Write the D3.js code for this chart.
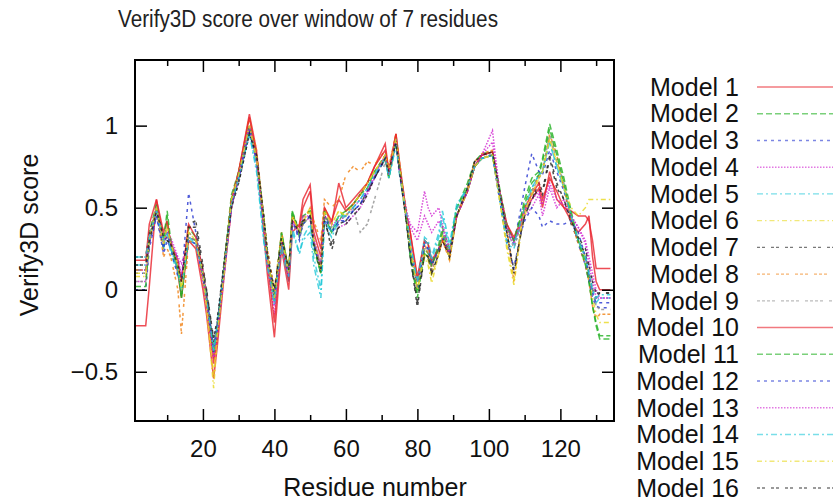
<!DOCTYPE html>
<html>
<head>
<meta charset="utf-8">
<script src="https://cdn.jsdelivr.net/npm/d3@7"></script>
<style>
  body { margin: 0; background: #fff; }
  svg { display: block; font-family: "Liberation Sans", Arial, sans-serif; }
</style>
</head>
<body>
<div id="chart"></div>
<script>
var residues = [1,4,5,7,9,10,11,13,14,16, 18,20,21,23,24,26,28,30,33,35, 37,38,40,42,44,45,47,48,50,51,
  53,54,56,58,60,62,64,66,68,71, 72,74,75,77,78,80,82,83,84,86, 87,89,91,94,96,98,101,103,105,107,
  109,110,112,114,115,117,119,121,123,125, 127,128,129,130,131,134];

var model1 = [-0.22,-0.22,0.02,0.55,0.30,0.32,0.30,0.10,-0.05,0.30, 0.25,0.00,-0.15,-0.54,-0.35,0.10,0.50,0.72,1.07,0.85,
  0.35,0.10,-0.29,0.25,0.00,0.35,0.40,0.55,0.64,0.40, 0.25,0.50,0.40,0.65,0.50,0.55,0.60,0.65,0.75,0.89,
  0.72,0.95,0.78,0.45,0.35,0.05,0.30,0.28,0.15,0.25, 0.30,0.22,0.45,0.60,0.75,0.82,0.84,0.58,0.40,0.30,
  0.40,0.48,0.55,0.62,0.50,0.72,0.55,0.50,0.48,0.45, 0.45,0.42,0.30,0.13,0.13,0.13];
var model2 = [0.12,0.12,0.35,0.52,0.25,0.45,0.25,0.12,-0.05,0.38, 0.32,0.08,-0.08,-0.40,-0.28,0.18,0.58,0.72,1.00,0.82,
  0.45,0.22,-0.08,0.35,0.12,0.48,0.32,0.40,0.45,0.25, 0.10,0.45,0.35,0.42,0.48,0.52,0.58,0.65,0.72,0.80,
  0.68,0.90,0.72,0.40,0.20,-0.05,0.25,0.22,0.15,0.28, 0.38,0.25,0.50,0.65,0.78,0.83,0.84,0.62,0.40,0.30,
  0.45,0.55,0.68,0.72,0.80,1.01,0.85,0.68,0.48,0.30, 0.18,0.05,-0.10,-0.22,-0.30,-0.30];
var model3 = [0.00,0.00,0.25,0.45,0.22,0.30,0.25,0.20,0.05,0.59, 0.35,0.10,-0.02,-0.35,-0.20,0.12,0.52,0.68,0.98,0.78,
  0.38,0.18,-0.02,0.30,0.08,0.42,0.30,0.42,0.45,0.28, 0.15,0.42,0.35,0.40,0.42,0.48,0.52,0.60,0.68,0.80,
  0.72,0.90,0.72,0.42,0.22,0.02,0.30,0.25,0.18,0.25, 0.32,0.20,0.45,0.60,0.75,0.80,0.82,0.58,0.35,0.28,
  0.50,0.62,0.83,0.72,0.70,0.85,0.72,0.60,0.45,0.28, 0.15,0.05,-0.05,-0.10,-0.11,-0.11];
var model4 = [0.05,0.05,0.28,0.48,0.30,0.35,0.32,0.20,0.16,0.30, 0.28,0.05,-0.10,-0.42,-0.30,0.10,0.50,0.68,0.98,0.78,
  0.38,0.15,-0.15,0.28,0.05,0.40,0.35,0.45,0.42,0.32, 0.15,0.45,0.40,0.38,0.40,0.45,0.50,0.58,0.68,0.82,
  0.70,0.90,0.72,0.48,0.40,0.35,0.60,0.50,0.45,0.50, 0.40,0.25,0.45,0.60,0.75,0.82,0.97,0.60,0.38,0.30,
  0.40,0.45,0.50,0.58,0.45,0.62,0.50,0.55,0.45,0.38, 0.30,0.20,0.10,0.00,-0.05,-0.05];
var model5 = [0.15,0.15,0.30,0.50,0.25,0.35,0.22,0.10,0.00,0.30, 0.28,0.10,-0.05,-0.35,-0.22,0.15,0.52,0.68,0.95,0.75,
  0.30,0.15,-0.10,0.25,0.05,0.35,0.22,0.30,0.35,0.15, -0.05,0.40,0.32,0.42,0.45,0.50,0.55,0.62,0.70,0.80,
  0.68,0.88,0.70,0.45,0.30,0.05,0.32,0.30,0.20,0.35, 0.48,0.28,0.52,0.62,0.75,0.80,0.82,0.55,0.28,0.25,
  0.40,0.48,0.62,0.70,0.72,0.90,0.75,0.62,0.45,0.30, 0.20,0.10,0.00,-0.08,-0.05,-0.05];
var model6 = [0.08,0.08,0.32,0.50,0.28,0.40,0.30,0.15,0.02,0.35, 0.30,0.10,-0.10,-0.60,-0.30,0.12,0.55,0.70,1.00,0.80,
  0.42,0.20,-0.05,0.32,0.10,0.45,0.35,0.42,0.50,0.30, 0.15,0.50,0.40,0.48,0.45,0.52,0.58,0.65,0.72,0.82,
  0.70,0.92,0.75,0.42,0.25,0.00,0.20,0.15,0.04,0.22, 0.32,0.18,0.45,0.60,0.75,0.80,0.82,0.55,0.25,0.03,
  0.35,0.45,0.58,0.68,0.72,0.92,0.78,0.62,0.45,0.30, 0.20,0.08,-0.05,-0.15,-0.20,-0.20];
var model7 = [0.20,0.20,0.35,0.48,0.35,0.30,0.28,0.15,0.05,0.40, 0.42,0.15,0.00,-0.32,-0.20,0.18,0.52,0.65,0.95,0.82,
  0.45,0.25,-0.02,0.32,0.12,0.45,0.38,0.42,0.45,0.28, 0.10,0.45,0.24,0.40,0.42,0.48,0.52,0.60,0.68,0.80,
  0.72,0.90,0.75,0.40,0.20,-0.11,0.22,0.20,0.10,0.22, 0.32,0.20,0.45,0.62,0.78,0.82,0.84,0.60,0.35,0.12,
  0.35,0.45,0.55,0.65,0.60,0.82,0.65,0.55,0.40,0.30, 0.22,0.10,0.00,-0.05,-0.02,-0.02];
var model8 = [0.12,0.12,0.30,0.50,0.20,0.25,0.20,0.00,-0.27,0.30, 0.28,0.05,-0.08,-0.42,-0.28,0.15,0.55,0.72,1.05,0.85,
  0.45,0.25,0.00,0.35,0.12,0.45,0.35,0.40,0.50,0.42, 0.30,0.55,0.50,0.55,0.70,0.75,0.72,0.78,0.76,0.85,
  0.75,0.95,0.78,0.45,0.28,0.02,0.28,0.22,0.12,0.22, 0.30,0.18,0.45,0.62,0.78,0.83,0.85,0.60,0.38,0.05,
  0.38,0.50,0.60,0.70,0.72,0.95,0.82,0.62,0.42,0.28, 0.15,0.05,-0.10,-0.18,-0.15,-0.15];
var model9 = [0.05,0.05,0.28,0.48,0.30,0.38,0.28,0.12,-0.02,0.35, 0.30,0.12,-0.02,-0.35,-0.22,0.15,0.52,0.70,1.00,0.80,
  0.40,0.20,-0.05,0.30,0.10,0.42,0.32,0.40,0.45,0.30, 0.15,0.45,0.38,0.45,0.45,0.50,0.35,0.40,0.55,0.78,
  0.70,0.92,0.72,0.42,0.25,0.00,0.25,0.25,0.12,0.25, 0.35,0.22,0.48,0.60,0.75,0.80,0.83,0.60,0.38,0.25,
  0.40,0.50,0.60,0.68,0.72,0.95,0.78,0.65,0.45,0.30, 0.20,0.10,0.00,-0.10,-0.12,-0.12];
var model10 = [0.18,0.18,0.40,0.55,0.35,0.42,0.28,0.18,0.05,0.40, 0.32,0.12,-0.05,-0.45,-0.30,0.15,0.55,0.72,1.05,0.82,
  0.40,0.18,-0.20,0.30,0.05,0.42,0.38,0.50,0.60,0.35, 0.20,0.50,0.42,0.55,0.48,0.52,0.58,0.65,0.75,0.85,
  0.72,0.95,0.75,0.45,0.35,0.08,0.30,0.28,0.18,0.25, 0.30,0.22,0.45,0.60,0.75,0.82,0.84,0.60,0.40,0.32,
  0.42,0.50,0.58,0.65,0.55,0.68,0.60,0.50,0.42,0.35, 0.40,0.45,0.20,0.05,0.00,0.00];
var model11 = [0.02,0.02,0.30,0.50,0.30,0.48,0.30,0.12,-0.05,0.32, 0.30,0.08,-0.05,-0.38,-0.25,0.15,0.55,0.70,1.00,0.80,
  0.42,0.20,-0.05,0.35,0.10,0.48,0.35,0.45,0.48,0.28, 0.10,0.48,0.35,0.45,0.48,0.52,0.58,0.62,0.72,0.82,
  0.68,0.92,0.75,0.42,0.22,-0.02,0.22,0.20,0.15,0.25, 0.35,0.22,0.50,0.62,0.75,0.80,0.82,0.60,0.38,0.30,
  0.45,0.52,0.65,0.70,0.78,0.98,0.82,0.65,0.45,0.30, 0.15,0.05,-0.10,-0.20,-0.28,-0.28];
var model12 = [0.10,0.10,0.28,0.45,0.25,0.35,0.25,0.08,0.08,0.30, 0.28,0.08,-0.05,-0.38,-0.25,0.12,0.52,0.68,0.98,0.78,
  0.40,0.20,-0.05,0.30,0.08,0.42,0.32,0.40,0.45,0.28, 0.12,0.45,0.35,0.42,0.42,0.48,0.52,0.60,0.68,0.80,
  0.70,0.90,0.72,0.42,0.25,0.00,0.28,0.25,0.15,0.25, 0.32,0.22,0.45,0.60,0.75,0.80,0.82,0.55,0.30,0.13,
  0.35,0.42,0.50,0.45,0.38,0.42,0.40,0.40,0.42,0.35, 0.20,0.08,-0.02,-0.08,-0.08,-0.08];
var model13 = [0.12,0.12,0.32,0.50,0.28,0.35,0.30,0.18,0.10,0.32, 0.30,0.08,-0.08,-0.42,-0.28,0.12,0.52,0.70,1.00,0.80,
  0.40,0.18,-0.10,0.30,0.08,0.42,0.35,0.45,0.45,0.30, 0.15,0.45,0.40,0.42,0.45,0.50,0.55,0.60,0.70,0.82,
  0.70,0.92,0.72,0.45,0.38,0.30,0.45,0.40,0.35,0.42, 0.38,0.22,0.45,0.60,0.75,0.82,0.90,0.60,0.38,0.28,
  0.40,0.48,0.55,0.60,0.52,0.65,0.55,0.52,0.45,0.38, 0.28,0.15,0.05,-0.05,-0.05,-0.05];
var model14 = [0.20,0.20,0.32,0.48,0.30,0.35,0.25,0.12,0.00,0.32, 0.28,0.10,-0.05,-0.38,-0.22,0.15,0.52,0.68,0.95,0.72,
  0.30,0.15,-0.08,0.28,0.08,0.38,0.22,0.32,0.40,0.20, 0.00,0.42,0.35,0.45,0.45,0.50,0.55,0.62,0.70,0.80,
  0.68,0.88,0.72,0.45,0.28,0.05,0.30,0.28,0.18,0.32, 0.45,0.25,0.50,0.62,0.75,0.80,0.82,0.58,0.30,0.28,
  0.42,0.50,0.62,0.70,0.72,0.90,0.75,0.62,0.45,0.30, 0.20,0.10,0.00,-0.05,-0.03,-0.03];
var model15 = [0.10,0.10,0.30,0.50,0.28,0.38,0.28,0.15,0.00,0.35, 0.30,0.10,-0.10,-0.52,-0.28,0.12,0.55,0.70,1.00,0.80,
  0.42,0.20,-0.05,0.32,0.10,0.45,0.35,0.42,0.48,0.30, 0.12,0.48,0.40,0.48,0.45,0.52,0.58,0.65,0.72,0.82,
  0.72,0.92,0.75,0.42,0.25,0.00,0.22,0.18,0.08,0.22, 0.32,0.20,0.45,0.60,0.75,0.80,0.82,0.55,0.28,0.05,
  0.38,0.48,0.58,0.68,0.72,0.92,0.78,0.62,0.50,0.45, 0.50,0.55,0.55,0.55,0.55,0.55];
var model16 = [0.15,0.15,0.30,0.48,0.32,0.30,0.28,0.15,0.05,0.38, 0.38,0.12,0.00,-0.30,-0.18,0.18,0.50,0.65,0.95,0.82,
  0.45,0.22,0.00,0.32,0.12,0.42,0.35,0.42,0.45,0.28, 0.12,0.42,0.28,0.38,0.40,0.45,0.50,0.58,0.68,0.80,
  0.72,0.90,0.72,0.40,0.20,-0.08,0.22,0.20,0.10,0.22, 0.30,0.20,0.45,0.62,0.78,0.82,0.84,0.60,0.35,0.10,
  0.35,0.45,0.55,0.62,0.58,0.80,0.62,0.55,0.42,0.32, 0.25,0.15,0.05,-0.02,-0.02,-0.02];

var modelNames = ["Model 1","Model 2","Model 3","Model 4","Model 5","Model 6","Model 7","Model 8",
  "Model 9","Model 10","Model 11","Model 12","Model 13","Model 14","Model 15","Model 16"];
var modelValues = [model1,model2,model3,model4,model5,model6,model7,model8,
  model9,model10,model11,model12,model13,model14,model15,model16];

var xMajorTicks = [20,40,60,80,100,120];
var xMinorTicks = [10,30,50,70,90,110,130];
var yTicks = [-0.5,0,0.5,1];

// gnuplot-like line types, repeating after 9
var colors = ["#e8202a","#22b022","#2535d0","#d020d0","#20c8d8","#e8d820","#202020","#f08010","#909090"];
var dashes = [null,"6,3","3,4","1.5,1.5","6,3,2,3","5,3,1.5,3","3,2,3,6","3,2,3,2,3,6","3,2,3,2,3,2,3,6"];

var width = 837, height = 503;
var margin = {top: 60, right: 223, bottom: 82, left: 135};
var plotW = width - margin.left - margin.right;
var plotH = height - margin.top - margin.bottom;

var svg = d3.select("#chart").append("svg")
  .attr("width", width)
  .attr("height", height);

var g = svg.append("g")
  .attr("transform", `translate(${margin.left},${margin.top})`);

var xScale = d3.scaleLinear().domain([1, 135]).range([0, plotW]);
var yScale = d3.scaleLinear().domain([-0.8, 1.4]).range([plotH, 0]);

var line = d3.line()
  .x(function(d) { return xScale(d[0]); })
  .y(function(d) { return yScale(d[1]); });

var series = modelValues.map(function(vals, i) {
  return { name: modelNames[i], idx: i, points: residues.map(function(r, j) { return [r, vals[j]]; }) };
});

g.append("g").selectAll("path")
  .data(series)
  .enter()
  .append("path")
  .attr("d", function(d) { return line(d.points); })
  .attr("fill", "none")
  .attr("stroke", function(d) { return colors[d.idx % 9]; })
  .attr("stroke-width", 1.5)
  .attr("stroke-opacity", 0.8)
  .attr("stroke-dasharray", function(d) { return dashes[d.idx % 9]; });

// axes with inward ticks, mirrored on top/right
function styleAxis(sel) {
  sel.select(".domain").remove();
  sel.selectAll("line").attr("stroke", "#000").attr("stroke-width", 1.5);
  sel.selectAll("text").attr("font-size", 24).attr("fill", "#111");
}

g.append("g")
  .attr("transform", `translate(0,${plotH})`)
  .call(d3.axisBottom(xScale).tickValues(xMajorTicks).tickSize(-12).tickPadding(19))
  .call(styleAxis);
g.append("g")
  .attr("transform", `translate(0,${plotH})`)
  .call(d3.axisBottom(xScale).tickValues(xMinorTicks).tickSize(-6).tickFormat(""))
  .call(styleAxis);
g.append("g")
  .call(d3.axisTop(xScale).tickValues(xMajorTicks).tickSize(-12).tickFormat(""))
  .call(styleAxis);
g.append("g")
  .call(d3.axisTop(xScale).tickValues(xMinorTicks).tickSize(-6).tickFormat(""))
  .call(styleAxis);
g.append("g")
  .call(d3.axisLeft(yScale).tickValues(yTicks).tickSize(-12).tickPadding(17).tickFormat(d3.format("")))
  .call(styleAxis);
g.append("g")
  .attr("transform", `translate(${plotW},0)`)
  .call(d3.axisRight(yScale).tickValues(yTicks).tickSize(-12).tickFormat(""))
  .call(styleAxis);

g.append("rect")
  .attr("width", plotW)
  .attr("height", plotH)
  .attr("fill", "none")
  .attr("stroke", "#000")
  .attr("stroke-width", 2);

svg.append("text")
  .attr("x", 308).attr("y", 27)
  .attr("text-anchor", "middle")
  .attr("font-size", 23)
  .attr("textLength", 380)
  .attr("lengthAdjust", "spacingAndGlyphs")
  .attr("fill", "#222")
  .text("Verify3D score over window of 7 residues");

svg.append("text")
  .attr("x", 375).attr("y", 496)
  .attr("text-anchor", "middle")
  .attr("font-size", 25)
  .attr("fill", "#111")
  .text("Residue number");

svg.append("text")
  .attr("transform", "translate(38,235) rotate(-90)")
  .attr("text-anchor", "middle")
  .attr("font-size", 25)
  .attr("fill", "#111")
  .text("Verify3D score");

// legend
var legend = svg.append("g").selectAll("g")
  .data(series)
  .enter()
  .append("g")
  .attr("transform", function(d) { return `translate(0,${87 + d.idx * 26.73})`; });

legend.append("text")
  .attr("x", 739)
  .attr("dy", "0.35em")
  .attr("text-anchor", "end")
  .attr("font-size", 25)
  .attr("fill", "#111")
  .text(function(d) { return d.name; });

legend.append("line")
  .attr("x1", 757).attr("x2", 833)
  .attr("stroke", function(d) { return colors[d.idx % 9]; })
  .attr("stroke-width", 1.4)
  .attr("stroke-opacity", 0.6)
  .attr("stroke-dasharray", function(d) { return dashes[d.idx % 9]; });
</script>
</body>
</html>
